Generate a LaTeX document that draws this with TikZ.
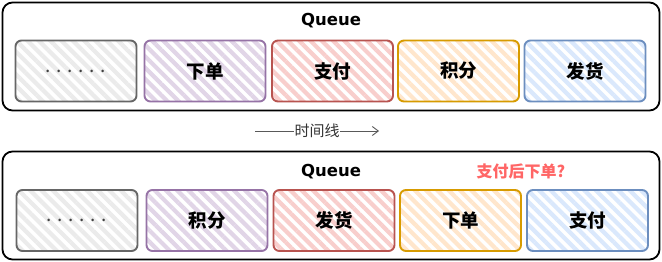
\documentclass[tikz,border=0pt]{standalone}
\usepackage{fontspec}
\setmainfont{DejaVu Sans}
\newfontfamily\cjk{Noto Sans CJK SC}
\usepackage{tikz}
\usetikzlibrary{arrows.meta, patterns.meta}
\usepackage{xcolor}
\definecolor{dotsfill}{HTML}{EBEBEB}
\definecolor{dotsline}{HTML}{666666}
\definecolor{orderfill}{HTML}{E1D5E7}
\definecolor{orderline}{HTML}{9673A6}
\definecolor{payfill}{HTML}{F8CECC}
\definecolor{payline}{HTML}{B85450}
\definecolor{pointsfill}{HTML}{FFE6CC}
\definecolor{pointsline}{HTML}{D79B00}
\definecolor{shipfill}{HTML}{DAE8FC}
\definecolor{shipline}{HTML}{6C8EBF}
\definecolor{asktext}{HTML}{FF6666}

\begin{document}
\begin{tikzpicture}[
  x=1pt, y=-1pt,
  queuebox/.style={rectangle, rounded corners=10pt, draw=black, line width=1.8pt,
                   minimum width=657pt, minimum height=108pt},
  qitem/.style 2 args={rectangle, rounded corners=6pt, draw=#1, line width=1.9pt,
                       pattern={Lines[angle=-45, distance=8pt, line width=4.2pt]},
                       pattern color=#2, minimum width=121pt, minimum height=61pt,
                       font=\fontsize{18.5}{20}\selectfont\cjk\bfseries},
  qlabel/.style={font=\fontsize{16.5}{18}\selectfont\bfseries},
  timearrow/.style={-{Straight Barb[length=6pt, width=9pt]}, line width=0.9pt, black!65},
]

% === Background ===
\fill[white] (0,0) rectangle (662,262);

% === Queue before ===
\node[queuebox] (queue1) at (331,56.5) {};
\node[qlabel] (title1) at (331,21) {Queue};

\node[qitem={dotsline}{dotsfill}] (dots1) at (76,71)
  {\fontsize{19}{20}\selectfont\mdseries\color{black!75}. . . . . .};
\node[qitem={orderline}{orderfill}] (order1) at (205,71) {下单};
\node[qitem={payline}{payfill}] (pay1) at (332.5,71) {支付};
\node[qitem={pointsline}{pointsfill}] (points1) at (458.5,71) {积分};
\node[qitem={shipline}{shipfill}] (ship1) at (585,71) {发货};

% === Time line ===
\coordinate (tstart) at (255,131);
\coordinate (tend) at (379,131);
\draw[timearrow] (tstart) -- (tend)
  node[midway, fill=white, inner sep=0.5pt, text=black!80,
       font=\fontsize{15}{16}\selectfont\cjk] (timeline) {时间线};

% === Queue after ===
\node[queuebox] (queue2) at (331,205.5) {};
\node[qlabel] (title2) at (331,172) {Queue};
\node[font=\fontsize{16}{18}\selectfont\cjk\bfseries, text=asktext] (ask) at (521,171)
  {支付后下单?};

\node[qitem={dotsline}{dotsfill}] (dots2) at (77,220.5)
  {\fontsize{19}{20}\selectfont\mdseries\color{black!75}. . . . . .};
\node[qitem={orderline}{orderfill}] (points2) at (207,220.5) {积分};
\node[qitem={payline}{payfill}] (ship2) at (334,220.5) {发货};
\node[qitem={pointsline}{pointsfill}] (order2) at (460.5,220.5) {下单};
\node[qitem={shipline}{shipfill}] (pay2) at (587.5,220.5) {支付};

\end{tikzpicture}
\end{document}
